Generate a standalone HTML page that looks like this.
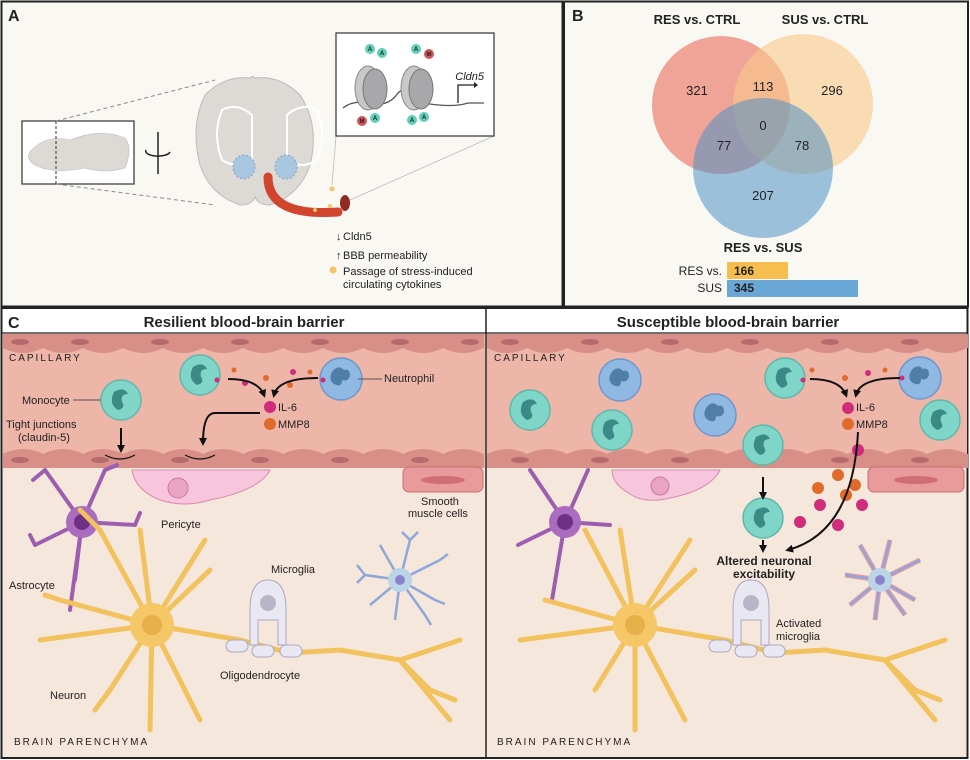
<!DOCTYPE html>
<html><head><meta charset="utf-8"><style>
html,body{margin:0;padding:0;background:#fff}
svg{display:block}
text{font-family:"Liberation Sans",Arial,sans-serif;fill:#222}
</style></head><body>
<svg width="970" height="760" viewBox="0 0 970 760" xmlns="http://www.w3.org/2000/svg">
<defs>
<marker id="ah" markerWidth="8" markerHeight="8" refX="5" refY="4" orient="auto" markerUnits="userSpaceOnUse"><path d="M0,0 L8,4 L0,8z" fill="#111"/></marker>
<g id="mono"><circle r="20" fill="#7fd6c8" stroke="#5fb8aa" stroke-width="1.5"/><path d="M-7,-8 q10,-6 14,2 q-8,0 -6,8 q4,6 -4,8 q-10,-6 -4,-18z" fill="#3c8a86"/></g>
<g id="neut"><circle r="21" fill="#8fb8e3" stroke="#6d98cc" stroke-width="1.5"/><path d="M-9,-7 q6,-8 12,-2 q6,-2 6,6 q-2,6 -8,4 q0,8 -8,4 q-6,-4 -2,-12z" fill="#4f7fa8"/></g>
<g id="capwall">
<rect x="0" y="0" width="481" height="14" fill="#d88f88"/>
<path d="M0,14 q20,10 40,0 q20,10 40,0 q20,10 40,0 q20,10 40,0 q20,10 40,0 q20,10 40,0 q20,10 40,0 q20,10 40,0 q20,10 40,0 q20,10 40,0 q20,10 40,0 q20,10 40,0 l1,0 v-2 h-481z" fill="#d88f88"/>
</g>
</defs>
<rect width="970" height="760" fill="#fff"/>
<!-- Panel A -->
<rect x="1.5" y="1.5" width="561" height="305" fill="#faf8f3" stroke="#222" stroke-width="2"/>
<text x="8" y="21" font-size="16" font-weight="bold">A</text>
<rect x="22" y="121" width="112" height="63" fill="#fff" stroke="#333" stroke-width="1.2"/>
<path d="M30,152 q15,-18 40,-12 q30,-12 55,-2 q8,10 0,30 q-20,6 -40,0 q-30,6 -48,-2 q-12,-6 -7,-14z" fill="#ddd9d5" stroke="#bbb" stroke-width="0.6"/>
<line x1="56" y1="121" x2="56" y2="184" stroke="#333" stroke-dasharray="3,2"/>
<path d="M56,121 L215,80 M56,184 L215,205" stroke="#888" stroke-dasharray="4,3" fill="none"/>
<path d="M158,132 v42 M146,150 a12,5 0 1,0 24,2" stroke="#222" stroke-width="1.5" fill="none"/>
<path d="M205,95 q20,-20 45,-17 q3,-3 5,0 q25,-3 45,17 q20,30 10,70 q-10,30 -40,40 q-12,0 -15,-8 q-3,8 -15,8 q-30,-10 -40,-40 q-10,-40 5,-70z" fill="#ddd9d5" stroke="#bbb"/>
<path d="M222,110 q15,-8 30,5 v45 q-15,10 -30,0 q-10,-25 0,-50z M287,115 q15,-13 30,-5 q10,25 0,50 q-15,10 -30,0z" fill="none" stroke="#fff" stroke-width="2"/>
<ellipse cx="244" cy="167" rx="11" ry="12" fill="#a8c6e0" stroke="#7fa3c4" stroke-dasharray="2,2"/>
<ellipse cx="286" cy="167" rx="11" ry="12" fill="#a8c6e0" stroke="#7fa3c4" stroke-dasharray="2,2"/>
<path d="M268,177 q0,40 70,35" stroke="#d1452f" stroke-width="9" fill="none" stroke-linecap="round"/>
<ellipse cx="345" cy="203" rx="5" ry="8" fill="#8f2b20"/>
<circle cx="315" cy="210" r="2" fill="#f3c56a"/><circle cx="330" cy="206" r="2" fill="#f3c56a"/><circle cx="332" cy="189" r="2.5" fill="#f3c56a"/>
<line x1="336" y1="136" x2="332" y2="185" stroke="#bbb" stroke-width="0.8"/>
<line x1="494" y1="136" x2="350" y2="200" stroke="#bbb" stroke-width="0.8"/>
<rect x="336" y="33" width="158" height="103" fill="#fff" stroke="#333" stroke-width="1.2"/>
<path d="M343,108 q10,-8 25,-5 q20,5 30,-10 q10,-10 25,10 q30,5 45,0 h16" stroke="#555" stroke-width="1.3" fill="none"/>
<ellipse cx="368" cy="88" rx="13" ry="22" fill="#c8c7c9" stroke="#888"/>
<ellipse cx="375" cy="89" rx="12" ry="20" fill="#a8a7aa" stroke="#777"/>
<ellipse cx="414" cy="88" rx="13" ry="22" fill="#c8c7c9" stroke="#888"/>
<ellipse cx="421" cy="89" rx="12" ry="20" fill="#a8a7aa" stroke="#777"/>
<path d="M458,103 v-18 h16" stroke="#222" stroke-width="1.3" fill="none"/><path d="M474,82 l4,3 l-4,3z" fill="#222"/>
<text x="484" y="80" font-size="11" font-style="italic" text-anchor="end">Cldn5</text>
<g font-size="6" font-weight="bold" text-anchor="middle">
<circle cx="370" cy="49" r="5" fill="#5fcfb8"/><text x="370" y="51">A</text>
<circle cx="382" cy="53" r="5" fill="#5fcfb8"/><text x="382" y="55">A</text>
<circle cx="416" cy="49" r="5" fill="#5fcfb8"/><text x="416" y="51">A</text>
<circle cx="429" cy="54" r="5" fill="#d0555a"/><text x="429" y="56">M</text>
<circle cx="362" cy="121" r="5" fill="#d0555a"/><text x="362" y="123">M</text>
<circle cx="375" cy="118" r="5" fill="#5fcfb8"/><text x="375" y="120">A</text>
<circle cx="412" cy="120" r="5" fill="#5fcfb8"/><text x="412" y="122">A</text>
<circle cx="424" cy="117" r="5" fill="#5fcfb8"/><text x="424" y="119">A</text>
</g>
<g font-size="11">
<text x="336" y="240" font-weight="bold">↓</text><text x="343" y="240">Cldn5</text>
<text x="336" y="259" font-weight="bold">↑</text><text x="343" y="259">BBB permeability</text>
<circle cx="333" cy="270" r="3.5" fill="#f3c56a"/>
<text x="343" y="275">Passage of stress-induced</text>
<text x="343" y="288">circulating cytokines</text>
</g>
<!-- Panel B -->
<rect x="564" y="1.5" width="404" height="305" fill="#faf8f3" stroke="#222" stroke-width="2"/>
<text x="572" y="21" font-size="16" font-weight="bold">B</text>
<circle cx="721" cy="105" r="69" fill="#e9806f" fill-opacity="0.7"/>
<circle cx="803" cy="104" r="70" fill="#f8c98a" fill-opacity="0.6"/>
<circle cx="763" cy="168" r="70" fill="#4f8fc4" fill-opacity="0.55"/>
<g font-size="13" text-anchor="middle">
<text x="697" y="95">321</text><text x="763" y="91">113</text><text x="832" y="95">296</text>
<text x="763" y="130">0</text><text x="724" y="150">77</text><text x="802" y="150">78</text><text x="763" y="200">207</text>
</g>
<g font-size="13" font-weight="bold" text-anchor="middle">
<text x="697" y="24">RES vs. CTRL</text><text x="825" y="24">SUS vs. CTRL</text><text x="763" y="252">RES vs. SUS</text>
</g>
<rect x="727" y="262" width="61" height="17" fill="#f6be4f"/>
<rect x="727" y="280" width="131" height="17" fill="#6aa6d6"/>
<g font-size="12"><text x="722" y="275" text-anchor="end">RES vs.</text><text x="722" y="292" text-anchor="end">SUS</text>
<text x="734" y="275" font-weight="bold">166</text><text x="734" y="292" font-weight="bold">345</text></g>
<!-- Panel C -->
<rect x="1.5" y="308" width="966" height="450" fill="#f6e7dc" stroke="#222" stroke-width="2"/>
<rect x="2.5" y="309" width="964" height="24" fill="#fff"/>
<line x1="2" y1="333" x2="968" y2="333" stroke="#222" stroke-width="1.2"/>
<line x1="486" y1="308" x2="486" y2="758" stroke="#222" stroke-width="1.5"/>
<text x="8" y="328" font-size="16" font-weight="bold">C</text>
<text x="244" y="327" font-size="15" font-weight="bold" text-anchor="middle">Resilient blood-brain barrier</text>
<text x="728" y="327" font-size="15" font-weight="bold" text-anchor="middle">Susceptible blood-brain barrier</text>
<g>
<rect x="3" y="334" width="482" height="134" fill="#eeb5a9"/>
<rect x="487" y="334" width="480" height="134" fill="#eeb5a9"/>
<use href="#capwall" x="3" y="334"/><use href="#capwall" x="487" y="334"/>
<use href="#capwall" transform="translate(3,468) scale(1,-1)"/><use href="#capwall" transform="translate(487,468) scale(1,-1)"/>
<g fill="#b66a6c">
<ellipse cx="20" cy="342" rx="9" ry="3"/><ellipse cx="80" cy="342" rx="9" ry="3"/><ellipse cx="160" cy="342" rx="9" ry="3"/><ellipse cx="240" cy="342" rx="9" ry="3"/><ellipse cx="320" cy="342" rx="9" ry="3"/><ellipse cx="400" cy="342" rx="9" ry="3"/><ellipse cx="470" cy="342" rx="9" ry="3"/>
<ellipse cx="20" cy="460" rx="9" ry="3"/><ellipse cx="100" cy="460" rx="9" ry="3"/><ellipse cx="180" cy="460" rx="9" ry="3"/><ellipse cx="260" cy="460" rx="9" ry="3"/><ellipse cx="340" cy="460" rx="9" ry="3"/><ellipse cx="420" cy="460" rx="9" ry="3"/>
<ellipse cx="510" cy="342" rx="9" ry="3"/><ellipse cx="590" cy="342" rx="9" ry="3"/><ellipse cx="670" cy="342" rx="9" ry="3"/><ellipse cx="750" cy="342" rx="9" ry="3"/><ellipse cx="830" cy="342" rx="9" ry="3"/><ellipse cx="910" cy="342" rx="9" ry="3"/>
<ellipse cx="520" cy="460" rx="9" ry="3"/><ellipse cx="600" cy="460" rx="9" ry="3"/><ellipse cx="680" cy="460" rx="9" ry="3"/><ellipse cx="840" cy="460" rx="9" ry="3"/><ellipse cx="920" cy="460" rx="9" ry="3"/>
</g>
</g>
<g font-size="10" letter-spacing="2"><text x="9" y="361" fill="#555">CAPILLARY</text><text x="494" y="361" fill="#555">CAPILLARY</text>
<text x="14" y="745" fill="#555">BRAIN PARENCHYMA</text><text x="497" y="745" fill="#555">BRAIN PARENCHYMA</text></g>
<!-- left cells -->
<use href="#mono" x="200" y="375"/><use href="#neut" x="341" y="379"/><use href="#mono" x="121" y="400"/>
<g fill="#d02c7c"><circle cx="217" cy="380" r="2.5"/><circle cx="245" cy="383" r="3"/><circle cx="293" cy="372" r="3"/><circle cx="270" cy="407" r="6"/><circle cx="323" cy="380" r="2.5"/></g>
<g fill="#e06a2a"><circle cx="234" cy="370" r="2.5"/><circle cx="266" cy="378" r="3"/><circle cx="290" cy="385" r="3"/><circle cx="310" cy="372" r="2.5"/><circle cx="270" cy="424" r="6"/></g>
<g stroke="#111" stroke-width="2" fill="none">
<path d="M228,379 q30,0 36,16" marker-end="url(#ah)"/><path d="M318,378 q-40,0 -44,17" marker-end="url(#ah)"/><path d="M260,413 h-45 q-12,0 -12,30" marker-end="url(#ah)"/><path d="M121,428 v22" marker-end="url(#ah)"/>
<path d="M105,455 q15,8 30,0 M185,455 q15,8 30,0" stroke-width="1.2"/>
</g>
<g font-size="11"><text x="278" y="411">IL-6</text><text x="278" y="428">MMP8</text>
<text x="384" y="382">Neutrophil</text><text x="22" y="404">Monocyte</text><text x="6" y="428">Tight junctions</text><text x="18" y="441">(claudin-5)</text>
<text x="161" y="528">Pericyte</text><text x="421" y="505">Smooth</text><text x="408" y="517">muscle cells</text>
<text x="271" y="573">Microglia</text><text x="9" y="589">Astrocyte</text><text x="50" y="699">Neuron</text><text x="220" y="679">Oligodendrocyte</text></g>
<line x1="358" y1="379" x2="382" y2="379" stroke="#555"/><line x1="73" y1="400" x2="101" y2="400" stroke="#555"/>
<!-- pericyte & smooth muscle -->
<path d="M132,470 h138 q-10,20 -60,30 q-25,8 -50,0 q-25,-10 -28,-30z" fill="#f7c5dc" stroke="#d88bb0"/>
<circle cx="178" cy="488" r="10" fill="#eaa4c4" stroke="#c97aa2"/>
<rect x="403" y="467" width="80" height="25" rx="6" fill="#e99a9a" stroke="#c96e70"/><ellipse cx="443" cy="480" rx="22" ry="4" fill="#d06f73"/>
<rect x="868" y="467" width="96" height="25" rx="6" fill="#e99a9a" stroke="#c96e70"/><ellipse cx="916" cy="480" rx="22" ry="4" fill="#d06f73"/>
<path d="M612,470 h108 q-10,20 -50,28 q-25,6 -40,-4 q-18,-10 -18,-24z" fill="#f7c5dc" stroke="#d88bb0"/>
<circle cx="660" cy="486" r="9" fill="#eaa4c4" stroke="#c97aa2"/>
<!-- astrocytes -->
<g stroke="#9c5fb0" stroke-width="4" fill="none" stroke-linecap="round">
<path d="M82,522 L45,470 M82,522 L105,470 M82,522 L35,545 M82,522 L135,525 M82,522 L75,580 M82,522 L70,610 M45,470 l-12,10 M105,470 l12,-5 M35,545 l-5,-10 M135,525 l5,-12"/>
<path d="M565,522 L530,470 M565,522 L588,470 M565,522 L518,545 M565,522 L610,525 M565,522 L552,600"/>
</g>
<circle cx="82" cy="522" r="16" fill="#a96cbf"/><circle cx="82" cy="522" r="8" fill="#6e2f84"/>
<circle cx="565" cy="522" r="16" fill="#a96cbf"/><circle cx="565" cy="522" r="8" fill="#6e2f84"/>
<!-- neurons -->
<g stroke="#f2c25e" stroke-width="5" fill="none" stroke-linecap="round">
<path d="M152,625 L40,640 M152,625 L60,600 M152,625 L100,530 M152,625 L140,530 M152,625 L205,540 M152,625 L210,570 M152,625 L110,690 M152,625 L150,730 M152,625 L200,720 M152,625 L240,640 L290,653 L340,650 L400,660 L460,640 M400,660 L450,720 M400,660 L430,690 L455,700 M100,530 l-20,-20 M60,600 l-15,-5 M110,690 l-15,20"/>
<path d="M635,625 L520,640 M635,625 L545,600 M635,625 L585,530 M635,625 L620,530 M635,625 L690,540 M635,625 L695,570 M635,625 L595,690 M635,625 L635,730 M635,625 L685,720 M635,625 L725,640 L775,653 L825,650 L885,660 L945,640 M885,660 L935,720 M885,660 L915,690 L940,700"/>
</g>
<circle cx="152" cy="625" r="22" fill="#f6c766"/><circle cx="152" cy="625" r="10" fill="#e5b04a"/>
<circle cx="635" cy="625" r="22" fill="#f6c766"/><circle cx="635" cy="625" r="10" fill="#e5b04a"/>
<!-- oligodendrocyte -->
<g fill="#e9e7f2" stroke="#aaa8c0">
<path d="M250,610 q0,-30 18,-30 q18,0 18,30 v35 h-8 v-25 h-20 v25 h-8z"/>
<rect x="226" y="640" width="22" height="12" rx="6"/><rect x="252" y="645" width="22" height="12" rx="6"/><rect x="280" y="645" width="22" height="12" rx="6"/>
<path d="M733,610 q0,-30 18,-30 q18,0 18,30 v35 h-8 v-25 h-20 v25 h-8z"/>
<rect x="709" y="640" width="22" height="12" rx="6"/><rect x="735" y="645" width="22" height="12" rx="6"/><rect x="763" y="645" width="22" height="12" rx="6"/>
</g>
<circle cx="268" cy="603" r="8" fill="#b8b6c6"/><circle cx="751" cy="603" r="8" fill="#b8b6c6"/>
<!-- microglia -->
<g stroke="#8ea6d8" stroke-width="2.5" fill="none">
<path d="M400,580 l-35,-5 M400,580 l-30,25 M400,580 l10,-40 M400,580 l-20,-35 M400,580 l40,-20 M400,580 l35,20 M400,580 l-5,40 M400,580 l25,35 M365,575 l-8,-10 M365,575 l-8,8 M410,540 l8,-8 M410,540 l-8,-8 M440,560 l8,-6 M435,600 l10,4 M425,615 l6,10"/>
</g>
<circle cx="400" cy="580" r="12" fill="#bcd4e8"/><circle cx="400" cy="580" r="5" fill="#8b84cc"/>
<g stroke="#e07a8a" stroke-width="5" fill="none" opacity="0.7"><path d="M880,580 l-35,-5 M880,580 l-30,25 M880,580 l10,-40 M880,580 l-20,-35 M880,580 l40,-20 M880,580 l35,20 M880,580 l-5,40 M880,580 l25,35"/></g>
<g stroke="#8ea6d8" stroke-width="2.5" fill="none"><path d="M880,580 l-35,-5 M880,580 l-30,25 M880,580 l10,-40 M880,580 l-20,-35 M880,580 l40,-20 M880,580 l35,20 M880,580 l-5,40 M880,580 l25,35"/></g>
<circle cx="880" cy="580" r="12" fill="#bcd4e8"/><circle cx="880" cy="580" r="5" fill="#8b84cc"/>
<!-- right cells -->
<use href="#mono" x="530" y="410"/><use href="#neut" x="620" y="380"/><use href="#mono" x="612" y="430"/><use href="#neut" x="715" y="415"/>
<use href="#mono" x="785" y="378"/><use href="#neut" x="920" y="378"/><use href="#mono" x="940" y="420"/>
<use href="#mono" x="763" y="445"/><use href="#mono" x="763" y="518"/>
<g fill="#d02c7c"><circle cx="803" cy="380" r="2.5"/><circle cx="868" cy="373" r="3"/><circle cx="902" cy="378" r="2.5"/><circle cx="848" cy="408" r="6"/><circle cx="858" cy="450" r="6"/><circle cx="820" cy="505" r="6"/><circle cx="800" cy="522" r="6"/><circle cx="838" cy="525" r="6"/><circle cx="862" cy="505" r="6"/></g>
<g fill="#e06a2a"><circle cx="812" cy="370" r="2.5"/><circle cx="845" cy="378" r="3"/><circle cx="885" cy="370" r="2.5"/><circle cx="848" cy="424" r="6"/><circle cx="838" cy="475" r="6"/><circle cx="818" cy="488" r="6"/><circle cx="846" cy="495" r="6"/><circle cx="855" cy="485" r="6"/></g>
<g stroke="#111" stroke-width="2" fill="none">
<path d="M810,379 q30,0 36,16" marker-end="url(#ah)"/><path d="M900,378 q-40,0 -44,17" marker-end="url(#ah)"/><path d="M763,477 v20" marker-end="url(#ah)"/><path d="M763,540 v10" marker-end="url(#ah)"/><path d="M858,432 q-5,100 -70,118" marker-end="url(#ah)"/>
</g>
<g font-size="11"><text x="856" y="411">IL-6</text><text x="856" y="428">MMP8</text><text x="776" y="627">Activated</text><text x="776" y="640">microglia</text></g>
<g font-size="12" font-weight="bold" text-anchor="middle"><text x="764" y="565">Altered neuronal</text><text x="764" y="578">excitability</text></g>
</svg>
</body></html>
